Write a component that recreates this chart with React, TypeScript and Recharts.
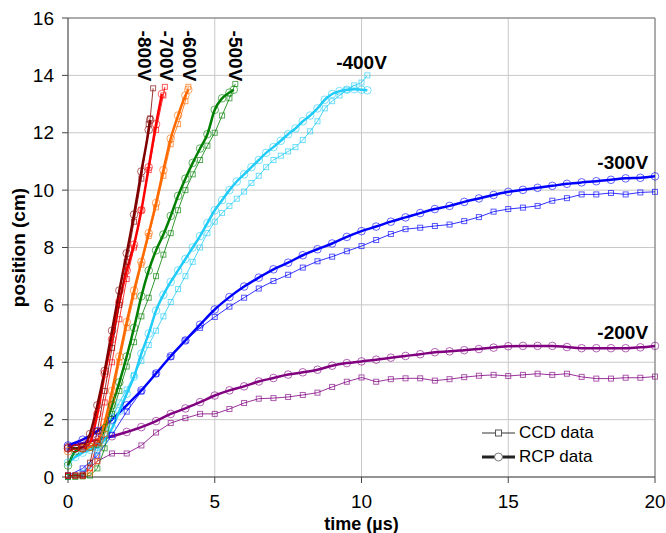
import {
  LineChart, Line, XAxis, YAxis, CartesianGrid,
  ReferenceDot, ReferenceLine, Legend,
} from "recharts";

type Pt = [number, number];

// [time (µs), position (cm)]
const ccd200: Pt[] = [
  [0, 0.05], [0.5, 0.1], [1, 0.55], [1.5, 0.82], [2, 0.82], [2.5, 1.1], [3, 1.55], [3.5, 1.88],
  [4, 2.05], [4.5, 2.2], [5, 2.2], [5.5, 2.37], [6, 2.58], [6.5, 2.73], [7, 2.75], [7.5, 2.79],
  [8, 2.86], [8.5, 2.94], [9, 3.14], [9.5, 3.32], [10, 3.47], [10.5, 3.32], [11, 3.41], [11.5, 3.44],
  [12, 3.44], [12.5, 3.36], [13, 3.41], [13.5, 3.48], [14, 3.53], [14.5, 3.56], [15, 3.52], [15.5, 3.56],
  [16, 3.6], [16.5, 3.56], [17, 3.6], [17.5, 3.49], [18, 3.43], [18.5, 3.43], [19, 3.46], [19.5, 3.46],
  [20, 3.5],
];
const rcp200: Pt[] = [
  [0, 1.05], [0.5, 1.18], [1, 1.3], [1.5, 1.42], [2, 1.57], [2.5, 1.74], [3, 1.95], [3.5, 2.2],
  [4, 2.39], [4.5, 2.61], [5, 2.84], [5.5, 3.02], [6, 3.16], [6.5, 3.33], [7, 3.45], [7.5, 3.57],
  [8, 3.65], [8.5, 3.74], [9, 3.88], [9.5, 3.97], [10, 4.03], [10.5, 4.09], [11, 4.16], [11.5, 4.22],
  [12, 4.28], [12.5, 4.35], [13, 4.38], [13.5, 4.42], [14, 4.46], [14.5, 4.51], [15, 4.56], [15.5, 4.57],
  [16, 4.57], [16.5, 4.57], [17, 4.53], [17.5, 4.49], [18, 4.49], [18.5, 4.49], [19, 4.49], [19.5, 4.52],
  [20, 4.57],
];
const ccd300: Pt[] = [
  [0, 0.05], [0.5, 0.3], [1, 0.75], [1.5, 1.47], [2, 2.28], [2.5, 2.98], [3, 3.6], [3.5, 4.19],
  [4, 4.76], [4.5, 5.2], [5, 5.58], [5.5, 5.94], [6, 6.25], [6.5, 6.57], [7, 6.83], [7.5, 7.05],
  [8, 7.3], [8.5, 7.52], [9, 7.68], [9.5, 7.87], [10, 8.05], [10.5, 8.26], [11, 8.47], [11.5, 8.64],
  [12, 8.69], [12.5, 8.75], [13, 8.8], [13.5, 8.92], [14, 9.06], [14.5, 9.25], [15, 9.34], [15.5, 9.39],
  [16, 9.45], [16.5, 9.63], [17, 9.72], [17.5, 9.85], [18, 9.85], [18.5, 9.9], [19, 9.85], [19.5, 9.92],
  [20, 9.94],
];
const rcp300: Pt[] = [
  [0, 1.1], [0.5, 1.3], [1, 1.6], [1.5, 2.0], [2, 2.5], [2.5, 3.02], [3, 3.61], [3.5, 4.21],
  [4, 4.76], [4.5, 5.31], [5, 5.84], [5.5, 6.27], [6, 6.64], [6.5, 6.95], [7, 7.24], [7.5, 7.47],
  [8, 7.73], [8.5, 7.94], [9, 8.14], [9.5, 8.37], [10, 8.57], [10.5, 8.73], [11, 8.9], [11.5, 9.05],
  [12, 9.2], [12.5, 9.34], [13, 9.45], [13.5, 9.59], [14, 9.71], [14.5, 9.83], [15, 9.94], [15.5, 10.01],
  [16, 10.08], [16.5, 10.15], [17, 10.22], [17.5, 10.27], [18, 10.31], [18.5, 10.36], [19, 10.41], [19.5, 10.43],
  [20, 10.48],
];
const ccd400: Pt[] = [
  [0, 0], [0.25, 0.05], [0.5, 0.15], [0.75, 0.4], [1, 0.9], [1.25, 1.5], [1.5, 2.1], [1.75, 2.6],
  [2, 3.05], [2.25, 3.55], [2.5, 4.05], [2.75, 4.6], [3, 5.1], [3.25, 5.6], [3.5, 6.1], [3.75, 6.55],
  [4, 7.0], [4.25, 7.5], [4.5, 8.0], [4.75, 8.5], [5, 8.9], [5.25, 9.2], [5.5, 9.45], [5.75, 9.7],
  [6, 9.95], [6.25, 10.25], [6.5, 10.5], [6.75, 10.8], [7, 11.05], [7.25, 11.2], [7.5, 11.35], [7.75, 11.5],
  [8, 11.75], [8.25, 12.05], [8.5, 12.4], [8.75, 12.85], [9, 13.1], [9.25, 13.3], [9.5, 13.5], [9.75, 13.65],
  [10, 13.75], [10.2, 14.0],
];
const rcp400: Pt[] = [
  [0, 0.5], [0.25, 0.7], [0.5, 0.85], [0.75, 0.95], [1, 1.05], [1.25, 1.3], [1.5, 1.7], [1.75, 2.3],
  [2, 2.9], [2.25, 3.5], [2.5, 4.3], [2.75, 5.0], [3, 5.8], [3.25, 6.35], [3.5, 6.8], [3.75, 7.2],
  [4, 7.6], [4.25, 8.0], [4.5, 8.4], [4.75, 8.85], [5, 9.3], [5.25, 9.65], [5.5, 10.0], [5.75, 10.3],
  [6, 10.55], [6.25, 10.8], [6.5, 11.05], [6.75, 11.3], [7, 11.5], [7.25, 11.72], [7.5, 11.95], [7.75, 12.15],
  [8, 12.4], [8.25, 12.6], [8.5, 12.85], [8.75, 13.15], [9, 13.35], [9.25, 13.45], [9.5, 13.5], [9.75, 13.52],
  [10, 13.5], [10.2, 13.48],
];
const ccd500: Pt[] = [
  [0, 0], [0.25, 0], [0.5, 0.02], [0.75, 0.05], [1, 0.3], [1.25, 1.0], [1.5, 2.2], [1.75, 3.0],
  [2, 3.85], [2.25, 4.7], [2.5, 5.6], [2.75, 6.25], [3, 7.0], [3.25, 7.75], [3.5, 8.5], [3.75, 9.3],
  [4, 10.0], [4.25, 10.55], [4.5, 11.05], [4.75, 11.55], [5, 12.0], [5.25, 12.6], [5.5, 13.2], [5.7, 13.7],
];
const rcp500: Pt[] = [
  [0, 0.4], [0.25, 0.9], [0.5, 1.0], [0.75, 1.05], [1, 1.15], [1.25, 1.7], [1.5, 2.5], [1.75, 3.3],
  [2, 4.2], [2.25, 5.2], [2.5, 6.3], [2.75, 7.2], [3, 7.9], [3.25, 8.45], [3.5, 9.1], [3.75, 9.8],
  [4, 10.4], [4.25, 10.95], [4.5, 11.45], [4.75, 11.95], [5, 12.8], [5.25, 13.2], [5.5, 13.4], [5.65, 13.5],
];
const ccd600: Pt[] = [
  [0, 0.05], [0.25, 0.05], [0.5, 0.05], [0.75, 0.15], [1, 0.55], [1.25, 1.5], [1.5, 2.7], [1.75, 4.0],
  [2, 5.2], [2.25, 6.3], [2.5, 7.4], [2.75, 8.4], [3, 9.4], [3.25, 10.5], [3.5, 11.6], [3.75, 12.3],
  [4, 13.1], [4.1, 13.6],
];
const rcp600: Pt[] = [
  [0, 0.9], [0.25, 1.0], [0.5, 1.0], [0.75, 1.05], [1, 1.2], [1.25, 1.9], [1.5, 3.0], [1.75, 4.2],
  [2, 5.4], [2.25, 6.5], [2.5, 7.5], [2.75, 8.5], [3, 9.55], [3.25, 10.7], [3.5, 11.8], [3.75, 12.6],
  [4, 13.3], [4.1, 13.5],
];
const ccd700: Pt[] = [
  [0, 0.05], [0.25, 0.05], [0.5, 0.05], [0.75, 0.3], [1, 1.2], [1.25, 2.6], [1.5, 4.0], [1.75, 5.5],
  [2, 6.9], [2.25, 8.0], [2.5, 9.3], [2.75, 10.7], [3, 12.1], [3.25, 13.3], [3.3, 13.6],
];
const rcp700: Pt[] = [
  [0, 1.0], [0.25, 1.0], [0.5, 1.0], [0.75, 1.2], [1, 2.2], [1.25, 3.6], [1.5, 4.8], [1.75, 6.1],
  [2, 7.2], [2.25, 8.1], [2.5, 9.3], [2.75, 10.8], [3, 12.3], [3.2, 13.35],
];
const ccd800: Pt[] = [
  [0, 0.05], [0.25, 0.05], [0.5, 0.05], [0.75, 0.5], [1, 1.6], [1.25, 3.0], [1.5, 4.5], [1.75, 6.0],
  [2, 7.5], [2.25, 8.9], [2.5, 10.4], [2.75, 12.3], [2.8, 12.5], [2.9, 13.55],
];
const rcp800: Pt[] = [
  [0, 1.0], [0.25, 1.0], [0.5, 1.05], [0.75, 1.5], [1, 2.5], [1.25, 3.7], [1.5, 5.1], [1.75, 6.5],
  [2, 7.8], [2.25, 9.15], [2.5, 10.65], [2.75, 12.1], [2.8, 12.45],
];

const SERIES = [
  { name: "-200V", color: "#800080", ccd: ccd200, rcp: rcp200 },
  { name: "-300V", color: "#0000ff", ccd: ccd300, rcp: rcp300 },
  { name: "-400V", color: "#22ccf8", ccd: ccd400, rcp: rcp400 },
  { name: "-500V", color: "#008000", ccd: ccd500, rcp: rcp500 },
  { name: "-600V", color: "#ff6a00", ccd: ccd600, rcp: rcp600 },
  { name: "-700V", color: "#ff0000", ccd: ccd700, rcp: rcp700 },
  { name: "-800V", color: "#800000", ccd: ccd800, rcp: rcp800 },
];

// where each voltage tag sits, in data units
const TAGS = [
  { text: "-800V", x: 2.62, y: 15.56, vertical: true },
  { text: "-700V", x: 3.37, y: 15.56, vertical: true },
  { text: "-600V", x: 4.15, y: 15.56, vertical: true },
  { text: "-500V", x: 5.69, y: 15.56, vertical: true },
  { text: "-400V", x: 10.0, y: 14.44, vertical: false },
  { text: "-300V", x: 18.9, y: 10.95, vertical: false },
  { text: "-200V", x: 18.9, y: 5.02, vertical: false },
];

const X_TICKS = [0, 5, 10, 15, 20];
const Y_TICKS = [0, 2, 4, 6, 8, 10, 12, 14, 16];

const FONT = '"Liberation Sans", Arial, sans-serif';

const toXY = (pts: Pt[]) => pts.map(([x, y]) => ({ x, y }));

function squareDot(color: string) {
  return (p: any) => (
    <rect
      key={`sq-${p.index}`}
      x={p.cx - 2.5}
      y={p.cy - 2.5}
      width={5}
      height={5}
      fill="none"
      stroke={color}
      strokeOpacity={0.65}
      strokeWidth={1}
    />
  );
}

function Tag({ viewBox, text, vertical }: any) {
  const x = viewBox.x + viewBox.width / 2;
  const y = viewBox.y + viewBox.height / 2;
  return (
    <text
      x={x}
      y={y}
      transform={vertical ? `rotate(90 ${x} ${y})` : undefined}
      textAnchor={vertical ? "start" : "middle"}
      dominantBaseline="central"
      fontSize={19}
      fontWeight="bold"
      fill="#000"
      fontFamily={FONT}
    >
      {text}
    </text>
  );
}

function XTitle({ viewBox }: any) {
  return (
    <text
      x={viewBox.x + viewBox.width / 2}
      y={viewBox.y + 53}
      textAnchor="middle"
      fontSize={18}
      fontWeight="bold"
      fill="#000"
      fontFamily={FONT}
    >
      time (µs)
    </text>
  );
}

function YTitle({ viewBox }: any) {
  const x = viewBox.x + 18;
  const y = viewBox.y + viewBox.height / 2;
  return (
    <text
      x={x}
      y={y}
      transform={`rotate(-90 ${x} ${y})`}
      textAnchor="middle"
      dominantBaseline="central"
      fontSize={19}
      fontWeight="bold"
      fill="#000"
      fontFamily={FONT}
    >
      position (cm)
    </text>
  );
}

function LegendBox() {
  const row = { display: "flex", alignItems: "center", height: 24 } as const;
  return (
    <div style={{ fontSize: 17, fontFamily: FONT, color: "#000" }}>
      <div style={row}>
        <svg width={33} height={12}>
          <line x1={0} y1={6} x2={33} y2={6} stroke="#333" strokeWidth={1} />
          <rect x={13.5} y={3} width={6} height={6} fill="#fff" stroke="#555" />
        </svg>
        <span style={{ marginLeft: 4 }}>CCD data</span>
      </div>
      <div style={row}>
        <svg width={33} height={12}>
          <line x1={0} y1={6} x2={33} y2={6} stroke="#222" strokeWidth={3} />
          <circle cx={16.5} cy={6} r={4} fill="#fff" stroke="#777" />
        </svg>
        <span style={{ marginLeft: 4 }}>RCP data</span>
      </div>
    </div>
  );
}

export default function App() {
  return (
    <div style={{ position: "absolute", left: 0, top: 0, fontFamily: FONT, background: "#fff" }}>
      <LineChart width={666} height={533} margin={{ top: 18, right: 11, left: 0, bottom: 0 }}>
        <CartesianGrid stroke="#c8c8c8" strokeWidth={1} />
        <XAxis
          type="number"
          dataKey="x"
          domain={[0, 20]}
          ticks={X_TICKS}
          height={56}
          tick={{ fontSize: 19, fill: "#000" }}
          tickSize={6}
          tickMargin={12}
          stroke="#444"
          label={<XTitle />}
        />
        <YAxis
          type="number"
          domain={[0, 16]}
          ticks={Y_TICKS}
          width={68}
          tick={{ fontSize: 19, fill: "#000" }}
          tickSize={6}
          tickMargin={8}
          stroke="#444"
          label={<YTitle />}
        />
        <ReferenceLine y={16} stroke="#777" />
        <ReferenceLine x={20} stroke="#777" />
        {SERIES.flatMap((s) => [
          <Line
            key={`${s.name}-ccd`}
            data={toXY(s.ccd)}
            dataKey="y"
            type="linear"
            stroke={s.color}
            strokeOpacity={0.8}
            strokeWidth={1}
            dot={squareDot(s.color)}
            activeDot={false}
            isAnimationActive={false}
          />,
          <Line
            key={`${s.name}-rcp`}
            data={toXY(s.rcp)}
            dataKey="y"
            type="monotone"
            stroke={s.color}
            strokeWidth={2.5}
            dot={{ r: 3.8, fill: "none", stroke: s.color, strokeOpacity: 0.6, strokeWidth: 1 }}
            activeDot={false}
            isAnimationActive={false}
          />,
        ])}
        {TAGS.map((t) => (
          <ReferenceDot
            key={t.text}
            x={t.x}
            y={t.y}
            r={0}
            fill="none"
            stroke="none"
            label={<Tag text={t.text} vertical={t.vertical} />}
          />
        ))}
        <Legend
          layout="vertical"
          align="center"
          verticalAlign="middle"
          content={<LegendBox />}
          wrapperStyle={{ left: 482, top: 421, width: "auto", height: "auto" }}
        />
      </LineChart>
    </div>
  );
}
